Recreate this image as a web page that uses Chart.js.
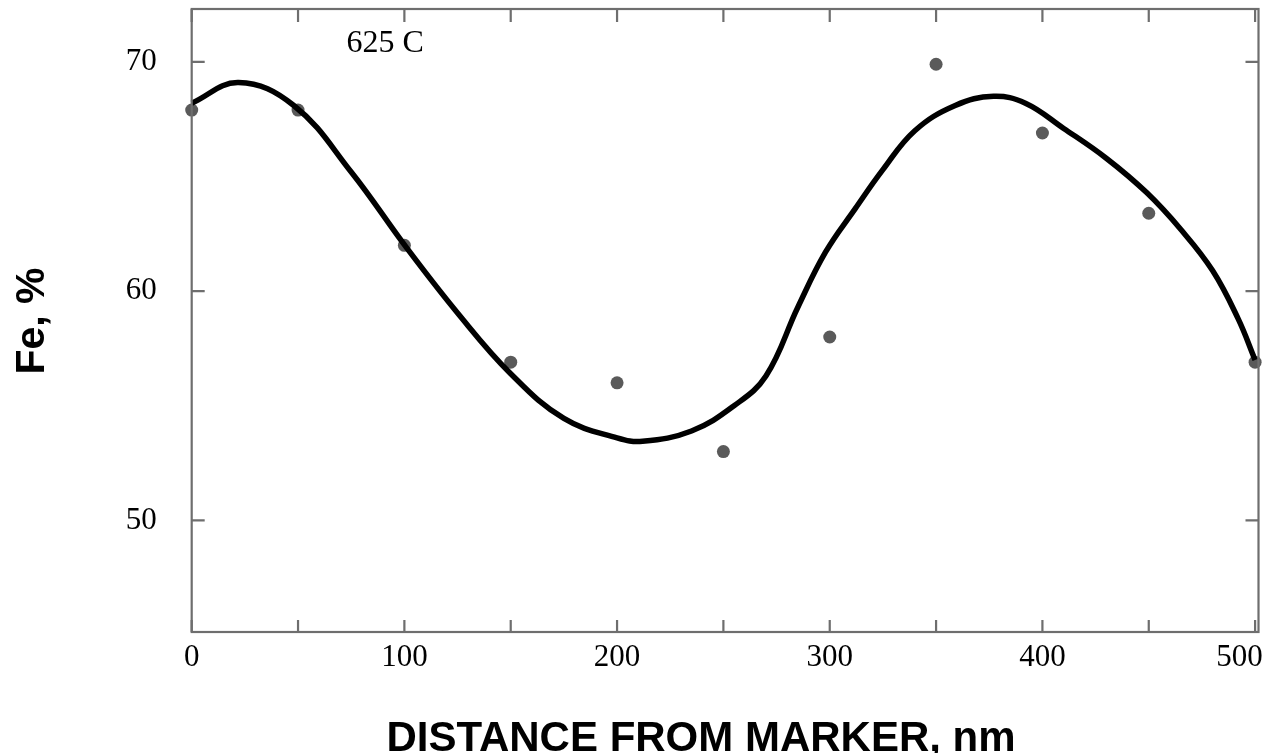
<!DOCTYPE html>
<html>
<head>
<meta charset="utf-8">
<script src="https://cdn.jsdelivr.net/npm/chart.js@4/dist/chart.umd.min.js"></script>
<style>
  html, body { margin: 0; padding: 0; background: #ffffff; }
  #wrap { width: 1265px; height: 753px; position: relative; }
</style>
</head>
<body>
<div id="wrap"><canvas id="c" width="1265" height="753"></canvas></div>
<script>
// ---- data ----
const distances = [0, 50, 100, 150, 200, 250, 300, 350, 400, 450, 500];
const feMeasured = [67.9, 67.9, 62.0, 56.9, 56.0, 53.0, 58.0, 69.9, 66.9, 63.4, 56.9];

const curveX = [0, 22, 48, 75, 101, 125, 150, 175, 200, 212, 235, 255, 270, 285, 298, 312, 325, 340, 359, 377, 392, 410, 430, 449, 465, 480, 492, 500];
const curveY = [68.2, 69.1, 68.1, 65.2, 61.9, 59.05, 56.4, 54.45, 53.6, 53.45, 53.9, 55.0, 56.3, 59.3, 61.7, 63.6, 65.3, 67.0, 68.1, 68.5, 68.2, 67.1, 65.8, 64.3, 62.7, 60.9, 58.8, 57.0];

const xTickLabels = [0, 100, 200, 300, 400, 500];
const yTickLabels = [50, 60, 70];
const xMinorTicks = [0, 50, 100, 150, 200, 250, 300, 350, 400, 450, 500];
const yMinorTicks = [50, 60, 70];

const xTitle = 'DISTANCE FROM MARKER, nm';
const yTitle = 'Fe, %';
const note = '625 C';

// ---- plugins ----
const framePlugin = {
  id: 'frame',
  afterDatasetsDraw(chart) {
    const { ctx, chartArea: a, scales } = chart;
    ctx.save();
    ctx.strokeStyle = '#6e6e6e';
    ctx.lineWidth = 2.2;
    ctx.strokeRect(a.left, a.top, a.right - a.left, a.bottom - a.top);
    ctx.beginPath();
    xMinorTicks.forEach(v => {
      const px = scales.x.getPixelForValue(v);
      ctx.moveTo(px, a.bottom); ctx.lineTo(px, a.bottom - 12);
      ctx.moveTo(px, a.top); ctx.lineTo(px, a.top + 13);
    });
    yMinorTicks.forEach(v => {
      const py = scales.y.getPixelForValue(v);
      ctx.moveTo(a.left, py); ctx.lineTo(a.left + 13, py);
      ctx.moveTo(a.right, py); ctx.lineTo(a.right - 13, py);
    });
    ctx.stroke();
    ctx.restore();
  },
  afterDraw(chart) {
    const { ctx, scales } = chart;
    ctx.save();
    ctx.fillStyle = '#000';
    ctx.font = '32px "Liberation Serif", "Times New Roman", serif';
    ctx.textAlign = 'center';
    ctx.textBaseline = 'middle';
    ctx.fillText(note, scales.x.getPixelForValue(91), scales.y.getPixelForValue(70.8));

    ctx.font = 'bold 42px "Liberation Sans", Arial, sans-serif';
    ctx.fillText(xTitle, 701, 739);

    ctx.font = 'bold 41px "Liberation Sans", Arial, sans-serif';
    ctx.translate(33, 321);
    ctx.rotate(-Math.PI / 2);
    ctx.fillText(yTitle, 0, 0);
    ctx.restore();
  }
};

new Chart(document.getElementById('c'), {
  type: 'scatter',
  data: {
    datasets: [
      {
        label: 'fit',
        data: curveX.map((x, i) => ({ x, y: curveY[i] })),
        showLine: true,
        borderColor: '#000000',
        borderWidth: 5.5,
        pointRadius: 0,
        tension: 0.4,
        order: 0,
        clip: false
      },
      {
        label: 'Fe',
        data: distances.map((x, i) => ({ x, y: feMeasured[i] })),
        pointRadius: 6.5,
        pointBackgroundColor: '#5a5a5a',
        pointBorderWidth: 0,
        order: 1,
        clip: false
      }
    ]
  },
  options: {
    responsive: false,
    animation: false,
    layout: { padding: { top: 9, right: 3, left: 0, bottom: 0 } },
    plugins: { legend: { display: false }, tooltip: { enabled: false } },
    scales: {
      x: {
        type: 'linear',
        min: 0,
        max: 501.6,
        grid: { display: false, drawTicks: false },
        border: { display: false },
        afterBuildTicks: s => { s.ticks = xTickLabels.map(v => ({ value: v })); },
        afterFit: s => { s.height = 121; s.paddingLeft = 0; s.paddingRight = 0; },
        ticks: {
          padding: 7,
          color: '#000',
          maxRotation: 0,
          autoSkip: false,
          callback: v => (v === 500 ? '500\u2002\u2002' : String(v)),
          font: { family: '"Liberation Serif", "Times New Roman", serif', size: 31 }
        }
      },
      y: {
        type: 'linear',
        min: 45.13,
        max: 72.31,
        grid: { display: false, drawTicks: false },
        border: { display: false },
        afterBuildTicks: s => { s.ticks = yTickLabels.map(v => ({ value: v })); },
        afterFit: s => { s.width = 191.7; s.paddingTop = 0; s.paddingBottom = 0; },
        ticks: {
          padding: 35,
          color: '#000',
          autoSkip: false,
          font: { family: '"Liberation Serif", "Times New Roman", serif', size: 31 }
        }
      }
    }
  },
  plugins: [framePlugin]
});
</script>
</body>
</html>
